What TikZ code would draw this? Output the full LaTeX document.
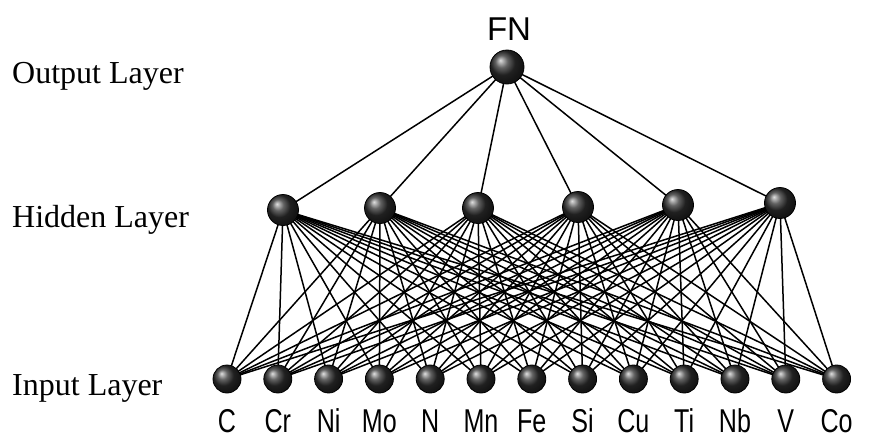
\documentclass[tikz,border=0pt]{standalone}
\usepackage{fontspec}
\setmainfont{Liberation Serif}
\newfontfamily\lblfont[FakeStretch=0.76]{Liberation Sans}
\newfontfamily\topfont{Liberation Sans}
\usetikzlibrary{backgrounds}
\begin{document}
\begin{tikzpicture}[x=1pt,y=-1pt,
  neuron/.style={circle,inner sep=0pt,draw=black,line width=0.8pt,shading=ball,ball color=black!82},
  outunit/.style={neuron,minimum size=34pt},
  hidunit/.style={neuron,minimum size=31pt},
  inunit/.style={neuron,minimum size=28pt},
  weight/.style={draw=black,line width=1.5pt},
  elem/.style={font=\lblfont\fontsize{33}{36}\selectfont,inner sep=1pt},
  layername/.style={font=\fontsize{32}{36}\selectfont,anchor=base west,inner sep=0pt}]
\useasboundingbox (0,0) rectangle (873,439);

% layer names
\node[layername] (lo) at (12,83) {Output Layer};
\node[layername] (lh) at (12,227) {Hidden Layer};
\node[layername] (li) at (12,395) {Input Layer};

% output neuron
\node[outunit] (o) at (507,67) {};
\node[font=\topfont\fontsize{33}{36}\selectfont,inner sep=0pt] (fn) at (509,29) {FN};

% hidden neurons
\foreach \i/\x/\y in {1/283/210,2/380/208,3/478/208,4/578/207,5/678/205,6/780/203}
  \node[hidunit] (h\i) at (\x,\y) {};

% input neurons with element names
\foreach [count=\k] \el in {C,Cr,Ni,Mo,N,Mn,Fe,Si,Cu,Ti,Nb,V,Co} {
  \node[inunit] (i\k) at ({227+50.8*(\k-1)},379) {};
  \node[elem] (t\k) at ({227+50.8*(\k-1)},421) {\el};
}

% weights
\begin{pgfonlayer}{background}
  \foreach \j in {1,...,6} {
    \draw[weight] (o.center) -- (h\j.center);
    \foreach \k in {1,...,13}
      \draw[weight] (h\j.center) -- (i\k.center);
  }
\end{pgfonlayer}
\end{tikzpicture}
\end{document}
